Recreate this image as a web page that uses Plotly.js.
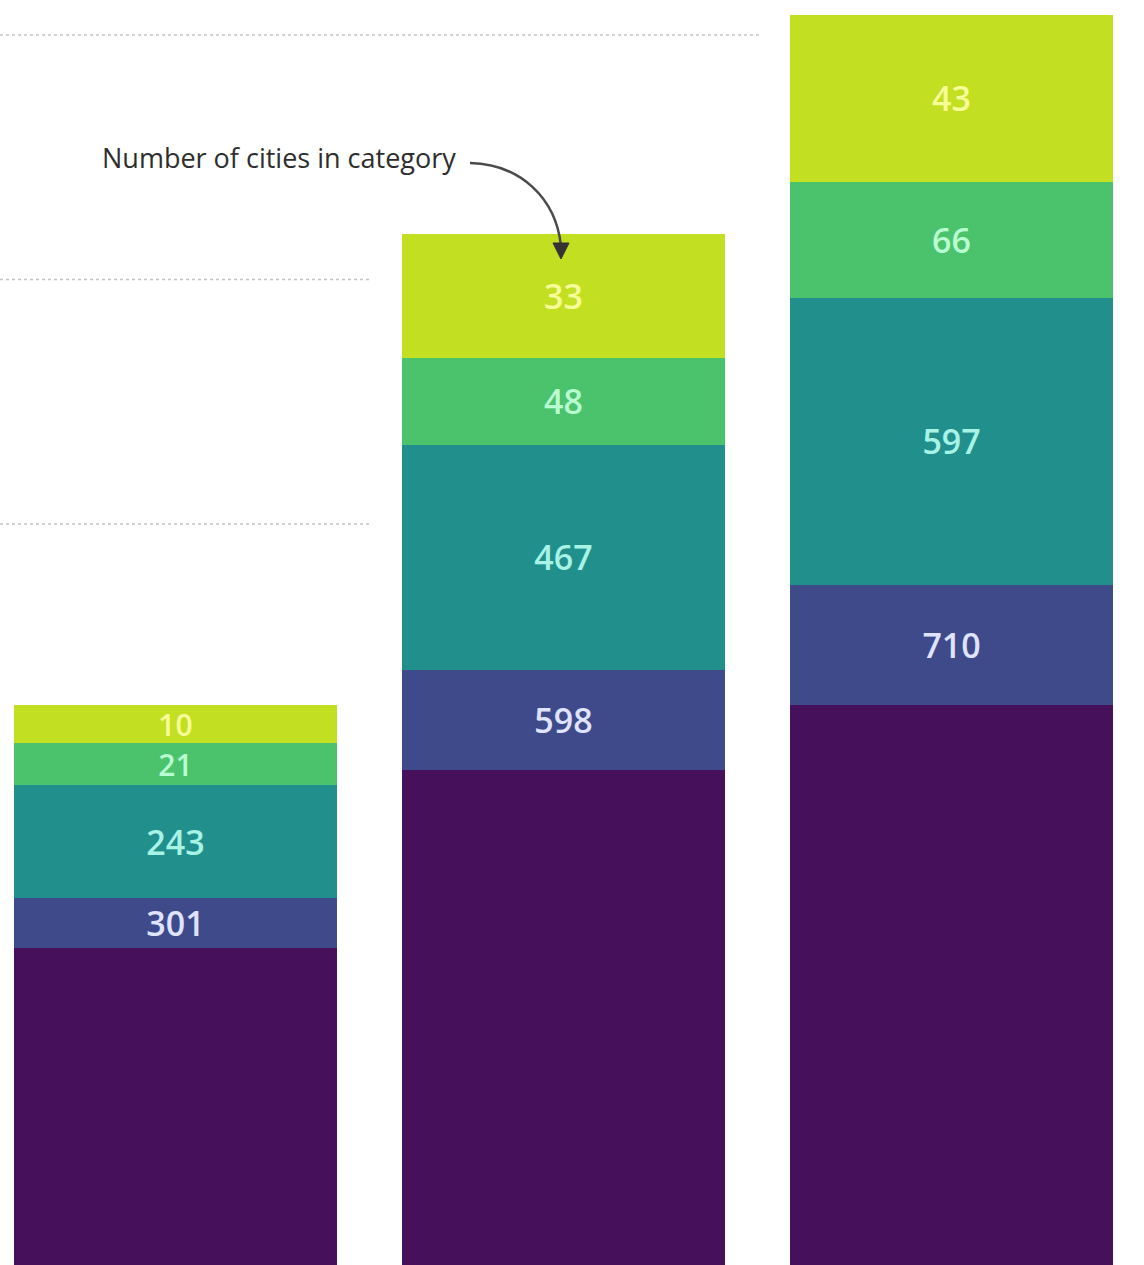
<!DOCTYPE html>
<html>
<head>
<meta charset="utf-8">
<script src="https://cdn.plot.ly/plotly-3.0.1.min.js"></script>
<style>html,body{margin:0;padding:0;background:#fff;}#chart{width:1144px;height:1265px;}</style>
</head>
<body>
<div id="chart"></div>
<script>
// Categories (the image is cropped; group names are not visible)
const categories = ['Group 1', 'Group 2', 'Group 3'];

// Segment heights (visual share, in axis units)
const baseHeights   = [226.6, 299.4, 326.0];
const tier4Heights  = [20.4, 40.9, 49.1];
const tier3Heights  = [46.2, 92.0, 117.4];
const tier2Heights  = [17.2, 35.6, 47.4];
const tier1Heights  = [15.5, 50.7, 68.3];

// Number of cities in each category (labels)
const tier4Cities = [301, 598, 710];
const tier3Cities = [243, 467, 597];
const tier2Cities = [21, 48, 66];
const tier1Cities = [10, 33, 43];

// Dotted reference lines (axis units)
const gridValues = [400, 500, 600];

const segColors  = ['#46105a', '#3f4a8a', '#21908c', '#4bc26c', '#c3df22'];
const textColors = [null, '#dfe3ff', '#a8f3e6', '#b9ffd2', '#f6ff98'];

function seg(y, text, i, sizes) {
  return {
    type: 'bar', x: categories, y: y,
    text: text ? text.map(String) : undefined,
    textposition: text ? 'inside' : 'none',
    insidetextanchor: 'middle',
    textangle: 0,
    constraintext: 'none',
    insidetextfont: {family: 'Open Sans, Lato, sans-serif', weight: 600,
                     size: sizes || 34, color: textColors[i]},
    marker: {color: segColors[i], line: {width: 0}},
    hoverinfo: 'skip'
  };
}

const data = [
  seg(baseHeights, null, 0),
  seg(tier4Heights, tier4Cities, 1),
  seg(tier3Heights, tier3Cities, 2),
  seg(tier2Heights, tier2Cities, 3, [30, 34, 34]),
  seg(tier1Heights, tier1Cities, 4, [30, 34, 34])
];

const gridEnds = [372/1144, 372/1144, 760/1144];
const shapes = gridValues.map((v, k) => ({
  type: 'line', xref: 'paper', yref: 'y', layer: 'below',
  x0: 0, x1: gridEnds[k], y0: v, y1: v,
  line: {color: '#c4c4c4', width: 1.5, dash: 'dot'}
}));

// curved arrow (paper coordinates)
const W = 1144, H = 1265;
const px = x => (x / W).toFixed(5);
const py = y => (1 - y / H).toFixed(5);
shapes.push({
  type: 'path', xref: 'paper', yref: 'paper',
  path: `M ${px(470)},${py(163)} C ${px(520)},${py(164)} ${px(556)},${py(198)} ${px(561)},${py(246)}`,
  line: {color: '#4a4a4a', width: 2.5}
});
shapes.push({
  type: 'path', xref: 'paper', yref: 'paper',
  path: `M ${px(553)},${py(243)} L ${px(569)},${py(243)} L ${px(561)},${py(259)} Z`,
  fillcolor: '#333', line: {color: '#333', width: 1}
});

const layout = {
  width: 1144, height: 1265,
  margin: {l: 0, r: 0, t: 0, b: 0},
  paper_bgcolor: '#ffffff', plot_bgcolor: '#ffffff',
  barmode: 'stack', bargap: 0.1675,
  showlegend: false,
  xaxis: {type: 'category', range: [-0.4523, 2.496], visible: false, fixedrange: true},
  yaxis: {range: [96.9, 614.3], visible: false, showgrid: false, zeroline: false, fixedrange: true},
  shapes: shapes,
  annotations: [{
    xref: 'paper', yref: 'paper',
    x: 458 / W, y: 1 - 158 / H,
    xanchor: 'right', yanchor: 'middle',
    text: 'Number of cities in category',
    showarrow: false,
    font: {family: 'Liberation Sans Narrow, Open Sans, sans-serif', size: 27, color: '#2e2e2e'}
  }]
};

Plotly.newPlot('chart', data, layout, {staticPlot: true, displayModeBar: false});
</script>
</body>
</html>
